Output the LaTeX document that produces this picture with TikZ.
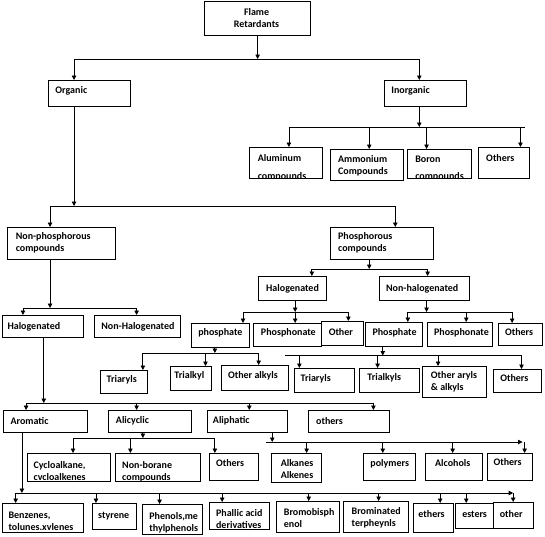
\documentclass[tikz,border=0pt]{standalone}
\usepackage{fontspec}
\setmainfont{Carlito}
\usetikzlibrary{arrows.meta}
\tikzset{
  bx/.style={draw, line width=0.9pt, anchor=north west, inner sep=0pt},
  tx/.style={anchor=west, inner sep=0pt, align=left, font=\fontsize{10}{12}\selectfont\bfseries},
  ln/.style={line width=0.8pt},
  ar/.style={line width=0.8pt, -{Triangle[length=4.5pt,width=4.5pt]}},
}
\newcommand\bx[5]{\node[bx, minimum width={(#4-#2)*1.043pt}, minimum height={(#5-#3)*1pt}] (#1) at (#2,#3) {};}
\newcommand\drop[3]{\draw[ar] (#1,0 |- #2) -- (#1,0 |- #3.north);}
\newcommand\feed[3]{\draw[ar] (#1,0 |- #2.south) -- (#1,0 |- #3);}
\newcommand\barline[3]{\draw[ln] (#1,0 |- #3) -- (#2,0 |- #3);}
\newcommand\clipbox[1]{\clip ([xshift=0.45pt,yshift=0.45pt]#1.south west) rectangle ([xshift=-0.45pt,yshift=-0.45pt]#1.north east);}
\begin{document}
\begin{tikzpicture}[x=1.043pt,y=-1pt]
\useasboundingbox (0,0) rectangle (522.53,536);
% level 0/1
\bx{fr}{196}{1}{297}{35}
\node[tx, align=center, anchor=center] (frt) at (246,18) {Flame\\Retardants};
\bx{org}{46}{80}{125}{106} \node[tx] (orgt) at (53,91) {Organic};
\bx{inorg}{368}{80}{447}{106} \node[tx] (inorgt) at (375,91) {Inorganic};
% inorganic children
\bx{alu}{239}{147}{309}{178}
\begin{scope}\clipbox{alu}
\node[tx] (alut) at (247,167.5) {Aluminum\\[6pt]compounds};\end{scope}
\bx{amm}{316}{149}{386}{180} \node[tx] (ammt) at (324,166) {Ammonium\\Compounds};
\bx{bor}{390}{149}{452}{178}
\begin{scope}\clipbox{bor}
\node[tx] (bort) at (398,168.5) {Boron\\[5pt]compounds};\end{scope}
\bx{oth1}{458}{147}{507}{178} \node[tx] (oth1t) at (466,158) {Others};
% organic children
\bx{nph}{7}{227}{110}{259} \node[tx] (npht) at (15,243) {Non-phosphorous\\compounds};
\bx{ph}{316}{227}{415}{259} \node[tx] (pht) at (324,243) {Phosphorous\\compounds};
\bx{halL}{2}{315}{80}{337} \node[tx] (halLt) at (7,327) {Halogenated};
\bx{nhalL}{90}{315}{173}{337} \node[tx] (nhalLt) at (97,327) {Non-Halogenated};
\bx{halP}{247}{276}{313}{300} \node[tx] (halPt) at (255,289) {Halogenated};
\bx{nhalP}{363}{276}{450}{300} \node[tx] (nhalPt) at (370,289) {Non-halogenated};
% phosphorous level
\bx{pa}{183}{323}{239}{347} \node[tx] (pat) at (190,333) {phosphate};
\bx{pn1}{243}{323}{308}{346} \node[tx] (pn1t) at (250,333) {Phosphonate};
\bx{ot1}{308}{321}{348}{345} \node[tx] (ot1t) at (315,332) {Other};
\bx{pa2}{350}{322}{405}{346} \node[tx] (pa2t) at (357,333) {Phosphate};
\bx{pn2}{409}{322}{472}{346} \node[tx] (pn2t) at (416,333) {Phosphonate};
\bx{oth2}{477}{323}{520}{345} \node[tx] (oth2t) at (484,332) {Others};
\bx{tar1}{96}{370}{141}{393} \node[tx] (tar1t) at (102,380) {Triaryls};
\bx{tal1}{163}{366}{202}{390} \node[tx] (tal1t) at (167,376) {Trialkyl};
\bx{oal}{212}{365}{276}{390} \node[tx] (oalt) at (218.5,376) {Other alkyls};
\bx{tar2}{282}{368}{339}{392} \node[tx] (tar2t) at (288,379) {Triaryls};
\bx{tal2}{344}{368}{402}{392} \node[tx] (tal2t) at (352,378) {Trialkyls};
\bx{oaa}{405}{366}{466}{397} \node[tx] (oaat) at (413,382) {Other aryls\\\& alkyls};
\bx{oth3}{473}{369}{519}{392} \node[tx] (oth3t) at (479.5,378) {Others};
% halogenated level
\bx{aro}{3}{410}{83}{432} \node[tx] (arot) at (10,421) {Aromatic};
\bx{ali}{104}{410}{183}{432} \node[tx] (alit) at (111,421) {Alicyclic};
\bx{alp}{198}{410}{275}{432} \node[tx] (alpt) at (204,421) {Aliphatic};
\bx{oth4}{295}{410}{373}{432} \node[tx] (oth4t) at (303,421) {others};
\bx{cyc}{26}{453}{105}{481}
\begin{scope}\clipbox{cyc}
\node[tx] (cyct) at (32,471.5) {Cycloalkane,\\cvcloalkenes};\end{scope}
\bx{nbor}{110}{453}{192}{481}
\begin{scope}\clipbox{nbor}
\node[tx] (nbort) at (117,471.5) {Non-borane\\compounds};\end{scope}
\bx{oth5}{200}{453}{247}{480} \node[tx] (oth5t) at (207,463) {Others};
\bx{alk}{260}{453}{308}{482} \node[tx] (alkt) at (269,469) {Alkanes\\Alkenes};
\bx{pol}{348}{453}{398}{480} \node[tx] (polt) at (355,464) {polymers};
\bx{alc}{407}{453}{462}{480} \node[tx] (alct) at (417,463) {Alcohols};
\bx{oth6}{467}{453}{510}{480} \node[tx] (oth6t) at (473,462) {Others};
% bottom row
\bx{ben}{2}{503}{80}{532}
\begin{scope}\clipbox{ben}
\node[tx] (bent) at (8,521.5) {Benzenes,\\tolunes.xvlenes};\end{scope}
\bx{sty}{88}{503}{130}{529} \node[tx] (styt) at (94,516) {styrene};
\bx{phe}{136}{504}{194}{534} \node[tx] (phet) at (143,522.5) {Phenols,me\\thylphenols};
\bx{pha}{200}{502}{258}{529} \node[tx] (phat) at (207,519) {Phallic acid\\derivatives};
\bx{bro}{265}{501}{325}{532} \node[tx] (brot) at (272,518) {Bromobisph\\enol};
\bx{brt}{329}{501}{391}{532} \node[tx] (brtt) at (337,518) {Brominated\\terpheynls};
\bx{eth}{396}{503}{434}{532} \node[tx] (etht) at (401,514.5) {ethers};
\bx{est}{436}{503}{473}{528} \node[tx] (estt) at (443,514.5) {esters};
\bx{oth7}{473}{502}{511}{528} \node[tx] (oth7t) at (479,514.5) {other};
% bar coordinates
\coordinate (b1) at (0,59);
\coordinate (b2) at (0,127);
\coordinate (b3) at (0,206);
\coordinate (b4) at (0,308);
\coordinate (b5) at (0,269);
\coordinate (b6) at (0,312);
\coordinate (b7) at (0,353);
\coordinate (b7b) at (0,355.5);
\coordinate (b8) at (0,403);
\coordinate (b9) at (0,438);
\coordinate (b10) at (0,442);
\coordinate (b11) at (0,493);
% connectors
\feed{247}{fr}{b1} \barline{71}{402}{b1} \drop{71}{b1}{org} \drop{402}{b1}{inorg}
\feed{402}{inorg}{b2} \barline{277}{503}{b2}
\drop{277}{b2}{alu} \drop{354}{b2}{amm} \drop{409}{b2}{bor} \drop{499}{b2}{oth1}
\feed{71}{org}{b3} \barline{48}{379}{b3} \drop{48}{b3}{nph} \drop{379}{b3}{ph}
\feed{48}{nph}{b4} \barline{22}{131}{b4} \drop{22}{b4}{halL} \drop{131}{b4}{nhalL}
\feed{354}{ph}{b5} \barline{299}{410}{b5} \drop{299}{b5}{halP} \drop{410}{b5}{nhalP}
\feed{283}{halP}{b6} \barline{233}{334}{b6} \drop{233}{b6}{pa} \drop{283}{b6}{pn1} \drop{334}{b6}{ot1}
\feed{409}{nhalP}{b6} \barline{391}{491}{b6} \drop{391}{b6}{pa2} \drop{447}{b6}{pn2} \drop{491}{b6}{oth2}
\feed{206}{pa}{b7} \barline{137}{248}{b7} \drop{137}{b7}{tar1} \drop{197}{b7}{tal1} \drop{248}{b7}{oal}
\feed{367}{pa2}{b7b} \barline{273}{500}{b7b} \drop{287}{b7b}{tar2} \drop{362}{b7b}{tal2} \drop{420}{b7b}{oaa} \drop{500}{b7b}{oth3}
\feed{42}{halL}{b8} \barline{25}{358}{b8} \drop{25}{b8}{aro} \drop{131}{b8}{ali} \drop{239}{b8}{alp} \drop{358}{b8}{oth4}
\feed{137}{ali}{b9} \barline{70}{206}{b9} \drop{70}{b9}{cyc} \drop{125}{b9}{nbor} \drop{206}{b9}{oth5}
\feed{261}{alp}{b10} \draw[ar] (255,0 |- b10) -- (501,0 |- b10);
\drop{294}{b10}{alk} \drop{367}{b10}{pol} \drop{434}{b10}{alc} \drop{503}{b10}{oth6}
\feed{21}{aro}{b11} \draw[ar] (15,0 |- b11) -- (492,0 |- b11);
\drop{15}{b11}{ben} \drop{92}{b11}{sty} \drop{153}{b11}{phe} \drop{213}{b11}{pha} \drop{296}{b11}{bro}
\drop{363}{b11}{brt} \drop{422}{b11}{eth} \drop{447}{b11}{est} \drop{492}{b11}{oth7}
\end{tikzpicture}
\end{document}
